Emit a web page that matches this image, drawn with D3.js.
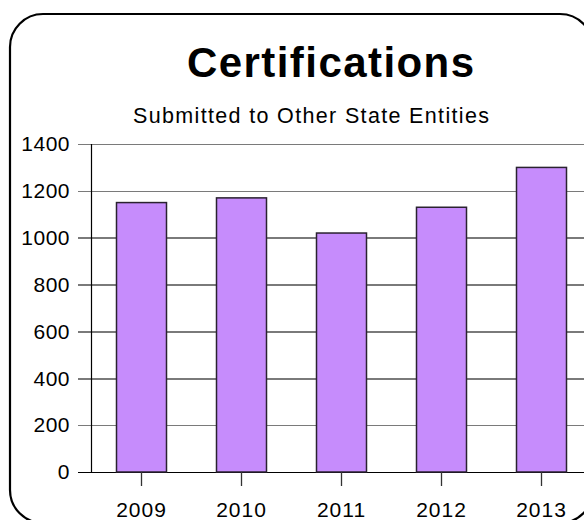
<!DOCTYPE html>
<html>
<head>
<meta charset="utf-8">
<script src="https://cdn.jsdelivr.net/npm/d3@7"></script>
<style>
  html, body { margin: 0; padding: 0; background: #fff; }
  svg { display: block; font-family: Arial, "Liberation Sans", sans-serif; }
</style>
</head>
<body>
<svg id="chart" width="584" height="520"></svg>
<script>
// Certifications submitted to other state entities, by year
const years = ["2009", "2010", "2011", "2012", "2013"];
const certifications = [1150, 1170, 1020, 1130, 1300];
const yTicks = [0, 200, 400, 600, 800, 1000, 1200, 1400];
const titleText = "Certifications";
const subtitleText = "Submitted to Other State Entities";

const svg = d3.select("#chart");

// Rounded frame around the whole chart
svg.append("rect")
  .attr("x", 10).attr("y", 14)
  .attr("width", 583).attr("height", 509)
  .attr("rx", 33).attr("ry", 33)
  .attr("fill", "#fff")
  .attr("stroke", "#000")
  .attr("stroke-width", 2.2);

// Titles
svg.append("text")
  .attr("x", 330.5).attr("y", 77)
  .attr("text-anchor", "middle")
  .attr("font-size", 42).attr("font-weight", "bold")
  .attr("textLength", 287).attr("lengthAdjust", "spacing")
  .text(titleText);

svg.append("text")
  .attr("x", 311).attr("y", 123)
  .attr("text-anchor", "middle")
  .attr("font-size", 21.5)
  .attr("textLength", 356).attr("lengthAdjust", "spacing")
  .text(subtitleText);

// Scales
const y = d3.scaleLinear().domain([0, 1400]).range([472, 144]);
const x = d3.scaleBand().domain(years).range([91.5, 591.5])
  .paddingInner(0.5).paddingOuter(0.25);

// Horizontal gridlines with their left tick stubs
const yAxis = d3.axisLeft(y)
  .tickValues(yTicks)
  .tickSize(-520)
  .tickPadding(8)
  .tickFormat(d3.format("d"));

const gy = svg.append("g")
  .attr("transform", "translate(78,0)")
  .call(yAxis);
gy.select(".domain").remove();
gy.selectAll(".tick line")
  .attr("stroke", d => d === 0 ? "#000" : "#7a7a7a")
  .attr("stroke-width", 1.6)
  .attr("shape-rendering", "crispEdges");
gy.selectAll(".tick text")
  .attr("x", -8)
  .attr("font-size", 21)
  .attr("letter-spacing", 0.5)
  .attr("fill", "#000")
  .attr("font-family", "Arial, 'Liberation Sans', sans-serif");

// Bars
svg.append("g")
  .selectAll("rect")
  .data(years.map((yr, i) => ({ yr, v: certifications[i] })))
  .join("rect")
  .attr("x", d => x(d.yr))
  .attr("y", d => y(d.v))
  .attr("width", x.bandwidth())
  .attr("height", d => y(0) - y(d.v))
  .attr("fill", "#c68cfc")
  .attr("stroke", "#2a2230")
  .attr("stroke-width", 1.5);

// Vertical axis line
svg.append("line")
  .attr("x1", 91.5).attr("x2", 91.5)
  .attr("y1", y(1400)).attr("y2", y(0))
  .attr("stroke", "#000").attr("stroke-width", 1.2);

// Category axis ticks and labels
const xAxis = d3.axisBottom(x).tickSize(14).tickPadding(16);
const gx = svg.append("g")
  .attr("transform", `translate(0,${y(0)})`)
  .call(xAxis);
gx.select(".domain").remove();
gx.selectAll(".tick line").attr("stroke", "#333").attr("stroke-width", 1.3);
gx.selectAll(".tick text")
  .attr("font-size", 21)
  .attr("letter-spacing", 1)
  .attr("fill", "#000")
  .attr("font-family", "Arial, 'Liberation Sans', sans-serif");
</script>
</body>
</html>
